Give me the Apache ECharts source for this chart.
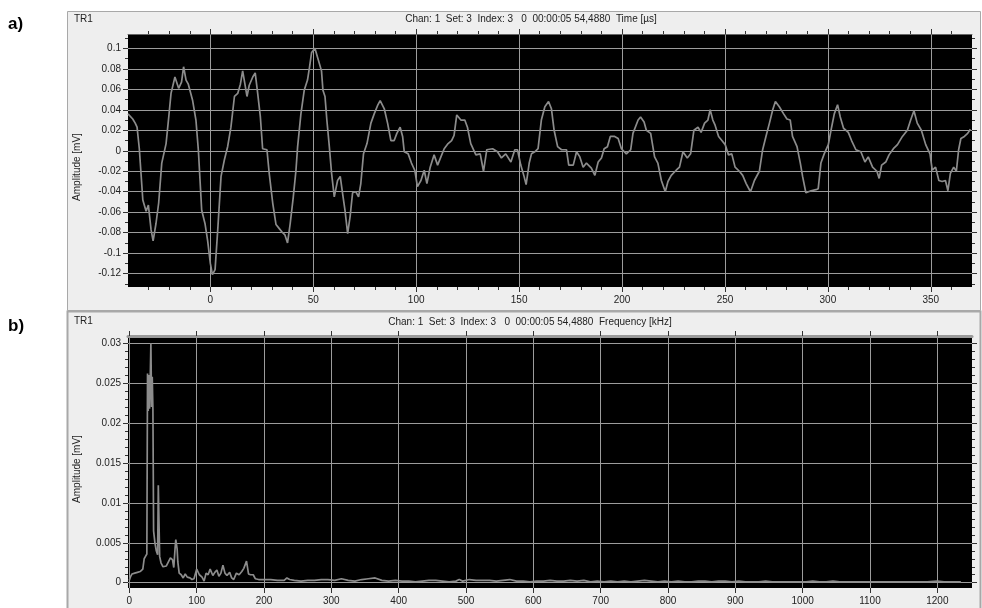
<!DOCTYPE html>
<html><head><meta charset="utf-8">
<script src="https://cdn.jsdelivr.net/npm/echarts@6/dist/echarts.min.js"></script>
<style>html,body{margin:0;padding:0;background:#fff}#c{width:982px;height:608px}</style>
</head><body><div id="c"></div>
<script>
// ---- Panel a: time signal ----
const timeUs = [-40,-37.7,-36.5,-35.6,-34.5,-32.8,-31.2,-30.1,-28.8,-27.8,-26.4,-25.1,-23.6,-21.5,-20.2,-19.1,-17.2,-15.4,-14,-13,-11.8,-10.7,-8.6,-7,-5.8,-4.2,-2.6,-1.3,0,1,2.3,3.6,5.2,6.8,8.4,10,11.7,13.3,14.6,15.7,16.8,17.8,18.9,20.6,21.8,23,24.3,25.4,27.5,28.6,30.3,31.9,33.5,35.1,36.2,37.5,38.8,40.3,41.6,42.4,44,45.6,47.2,48.2,49.2,50.8,52.1,54,54.7,55.7,56.6,57.8,58.9,60.2,61.8,63.1,64.2,65.4,66.7,67.9,69.1,70.7,72,73.1,74.4,76.1,78,79.6,81.2,82.5,84.5,86.1,87.7,89.3,90.6,92.2,93.4,94.2,96.1,97.7,99.3,100.6,102.3,103.9,105.2,106.8,108.7,110.4,112,113.6,115.5,117.2,118.4,119.7,121.7,123.6,124.9,126.5,129,131.1,132.7,134.3,137.1,139.5,141.4,143.5,146,147.9,149.2,150.8,152.4,153.4,154.9,156,157.6,159.2,160.8,162.5,164.3,165.7,167,168.7,170.6,173,174.1,176.3,177.9,179.5,181.1,182.7,185.1,186.8,188.4,190,191.3,192.9,194.3,196.4,198.1,199.7,202.1,204.2,205.3,207.8,209,210.7,211.8,213.9,215.8,217.4,219.1,221,222.3,223.9,226.3,227.9,229.6,231.7,233.3,234.9,236.9,238.4,240.1,241.7,242.8,244.1,245.2,246.9,248.5,250.1,251.7,253.3,254.9,257,258.6,260.3,262.4,264.3,266.7,268.3,269.9,271.6,273.2,274.5,276.4,278.5,280.1,281.7,282.8,285,286.6,287.7,289.3,291.8,294.2,295.3,296.6,298.2,300.2,301.8,303.1,304.7,306,307.6,309.9,311.5,313.6,316,318,319.6,321.7,323.8,324.9,326.1,328.1,329.7,331.8,333.8,336.2,338.6,340.2,341.8,343.4,345.4,347.5,349.6,350.7,352.3,353.9,355.5,357.1,358.3,359.5,361.1,362.4,363.5,364.6,366.3,367.9,369.2];
const ampMv = [0.036,0.031,0.027,0.023,0.002,-0.048,-0.059,-0.053,-0.077,-0.088,-0.071,-0.051,-0.012,0.007,0.033,0.056,0.072,0.061,0.067,0.082,0.069,0.065,0.049,0.030,0.000,-0.058,-0.071,-0.088,-0.110,-0.121,-0.116,-0.077,-0.025,-0.009,0.004,0.023,0.053,0.056,0.065,0.078,0.065,0.053,0.064,0.072,0.076,0.056,0.033,0.002,0.001,-0.022,-0.051,-0.072,-0.076,-0.080,-0.082,-0.090,-0.071,-0.045,-0.019,0.004,0.036,0.059,0.069,0.082,0.096,0.100,0.091,0.078,0.059,0.053,0.030,0.004,-0.022,-0.045,-0.029,-0.025,-0.041,-0.058,-0.081,-0.064,-0.041,-0.040,-0.045,-0.032,-0.003,0.007,0.027,0.036,0.044,0.049,0.041,0.027,0.010,0.010,0.017,0.023,0.014,-0.001,-0.003,-0.012,-0.019,-0.035,-0.029,-0.019,-0.032,-0.016,-0.004,-0.014,-0.006,0.002,0.007,0.010,0.015,0.035,0.030,0.030,0.023,0.007,-0.004,-0.003,-0.020,0.001,0.002,-0.001,-0.007,-0.003,-0.011,0.001,0.001,-0.014,-0.025,-0.033,-0.012,-0.003,-0.001,0.002,0.030,0.043,0.048,0.041,0.020,0.004,0.001,0.001,-0.014,-0.014,-0.001,-0.006,-0.016,-0.012,-0.017,-0.024,-0.011,-0.007,0.002,0.004,0.014,0.014,0.012,0.002,-0.003,0.001,0.017,0.030,0.033,0.028,0.020,0.017,-0.006,-0.012,-0.029,-0.040,-0.030,-0.024,-0.019,-0.016,-0.001,-0.007,-0.003,0.020,0.023,0.018,0.027,0.030,0.040,0.030,0.025,0.014,0.010,0.006,-0.004,-0.003,-0.016,-0.020,-0.024,-0.032,-0.040,-0.029,-0.020,0.001,0.014,0.027,0.040,0.048,0.043,0.036,0.031,0.030,0.014,0.004,-0.012,-0.025,-0.041,-0.039,-0.038,-0.037,-0.012,-0.003,0.006,0.023,0.036,0.045,0.033,0.022,0.018,0.010,0.001,-0.001,-0.011,-0.006,-0.016,-0.020,-0.027,-0.014,-0.011,-0.004,0.002,0.006,0.014,0.020,0.030,0.039,0.027,0.020,0.006,-0.003,-0.019,-0.016,-0.029,-0.030,-0.029,-0.039,-0.022,-0.016,-0.020,0.001,0.012,0.014,0.017,0.021];
const timeTicksMajor = [0,50,100,150,200,250,300,350];
const timeTicksAll = [-30,-20,-10,0,10,20,30,40,50,60,70,80,90,100,110,120,130,140,150,160,170,180,190,200,210,220,230,240,250,260,270,280,290,300,310,320,330,340,350,360];
const ampTicksMajor = [-0.12,-0.1,-0.08,-0.06,-0.04,-0.02,0,0.02,0.04,0.06,0.08,0.1];
const ampTicksAll = [-0.13,-0.12,-0.11,-0.1,-0.09,-0.08,-0.07,-0.06,-0.05,-0.04,-0.03,-0.02,-0.01,0,0.01,0.02,0.03,0.04,0.05,0.06,0.07,0.08,0.09,0.1,0.11];

// ---- Panel b: spectrum ----
const freqKHz = [0,2,4,8,12,16,20,22,24,26,27,28,29,30,31,32,33,34,35,36,38,40,42,43,44,45,47,50,55,58,61,64,66,68,69,71,72,74,77,80,83,86,90,93,96,100,104,108,111,114,117,120,124,127,130,133,136,139,142,145,149,152,155,159,163,167,170,174,177,180,184,187,192,200,210,220,230,234,238,245,255,265,275,285,295,305,315,325,335,345,355,365,375,385,395,405,415,425,435,445,455,465,475,485,490,495,505,515,525,535,545,555,565,575,585,595,605,615,625,635,645,655,665,675,685,695,705,715,725,735,745,755,765,775,785,795,805,815,825,835,845,855,865,875,885,895,905,915,925,935,945,955,965,975,985,995,1005,1015,1025,1035,1045,1055,1065,1080,1095,1110,1125,1140,1155,1170,1185,1200,1210,1220,1235,1250];
const specMv = [0.0003,0.0008,0.0011,0.0012,0.0013,0.0014,0.0017,0.0030,0.0033,0.0036,0.0262,0.0215,0.0260,0.0218,0.0255,0.0300,0.0220,0.0258,0.0217,0.0065,0.0050,0.0040,0.0035,0.0122,0.0123,0.0033,0.0025,0.0020,0.0021,0.0026,0.0031,0.0029,0.0019,0.0044,0.0054,0.0042,0.0026,0.0012,0.0010,0.0006,0.0011,0.0007,0.0006,0.0004,0.0005,0.0017,0.0010,0.0007,0.0002,0.0012,0.0010,0.0017,0.0009,0.0013,0.0016,0.0008,0.0012,0.0022,0.0012,0.0009,0.0013,0.0006,0.0004,0.0012,0.0010,0.0014,0.0018,0.0027,0.0011,0.0010,0.0010,0.0005,0.0004,0.0004,0.0004,0.0003,0.0003,0.0006,0.0004,0.0003,0.0002,0.0003,0.0003,0.0004,0.0004,0.0003,0.0005,0.0003,0.0002,0.0004,0.0005,0.0006,0.0003,0.0002,0.0003,0.0002,0.0002,0.0001,0.0002,0.0003,0.0003,0.0002,0.0001,0.0002,0.0004,0.0002,0.0004,0.0003,0.0003,0.0003,0.0002,0.0003,0.0004,0.0002,0.0002,0.0001,0.0002,0.0002,0.0003,0.0002,0.0002,0.0003,0.0002,0.0003,0.0001,0.0002,0.0001,0.0002,0.0001,0.0002,0.0001,0.0002,0.0003,0.0002,0.0001,0.0002,0.0001,0.0002,0.0001,0.0001,0.0002,0.0002,0.0001,0.0002,0.0002,0.0001,0.0002,0.0001,0.0001,0.0001,0.0002,0.0001,0.0001,0.0001,0.0001,0.0001,0.0001,0.0002,0.0001,0.0001,0.0002,0.0001,0.0001,0.0001,0.0001,0.0001,0.0001,0.0001,0.0001,0.0001,0.0001,0.0002,0.0001,0.0001,0.0001];
const freqTicksMajor = [0,100,200,300,400,500,600,700,800,900,1000,1100,1200];
const specTicksMajor = [0,0.005,0.01,0.015,0.02,0.025,0.03];
const specTicksAll = [0,0.001,0.002,0.003,0.004,0.005,0.006,0.007,0.008,0.009,0.01,0.011,0.012,0.013,0.014,0.015,0.016,0.017,0.018,0.019,0.02,0.021,0.022,0.023,0.024,0.025,0.026,0.027,0.028,0.029,0.03];

const titleA = 'Chan: 1  Set: 3  Index: 3   0  00:00:05 54,4880  Time [µs]';
const titleB = 'Chan: 1  Set: 3  Index: 3   0  00:00:05 54,4880  Frequency [kHz]';

const FONT = '"Liberation Sans", Arial, sans-serif';
const lab = {fontFamily: FONT, fontSize: 10, color: '#222', formatter: v => String(v)};
const tickColor = '#333';
const gridColor = '#9c9c9c';

function ax(o) {
  const base = {type: 'value', axisLine: {show: false, onZero: false}, splitLine: {show: false}, axisLabel: {show: false}};
  const r = Object.assign(base, o);
  r.axisLine = Object.assign({show: false}, o.axisLine || {}, {onZero: false});
  return r;
}
const aX = {gridIndex: 0, min: -40, max: 370};
const aY = {gridIndex: 0, min: -0.133, max: 0.114};
const bX = {gridIndex: 1, min: -2, max: 1251.5};
const bY = {gridIndex: 1, min: -0.00066, max: 0.0309};

const chart = echarts.init(document.getElementById('c'), null, {renderer: 'canvas'});
chart.setOption({
  animation: false,
  backgroundColor: '#ffffff',
  graphic: [
    {type: 'rect', z: -10, shape: {x: 67.5, y: 11.5, width: 913, height: 299}, style: {fill: '#eeeeee', stroke: '#a8a8a8', lineWidth: 1}},
    {type: 'rect', z: -10, shape: {x: 67.5, y: 311.5, width: 913, height: 300}, style: {fill: '#eeeeee', stroke: '#a8a8a8', lineWidth: 2}},
    {type: 'text', left: 8, top: 16, style: {text: 'a)', font: 'bold 17px ' + FONT, fill: '#000'}},
    {type: 'text', left: 8, top: 318, style: {text: 'b)', font: 'bold 17px ' + FONT, fill: '#000'}},
    {type: 'text', left: 74, top: 14, style: {text: 'TR1', font: '10px ' + FONT, fill: '#222'}},
    {type: 'text', left: 74, top: 316, style: {text: 'TR1', font: '10px ' + FONT, fill: '#222'}},
    {type: 'text', x: 531, y: 19.5, style: {text: titleA, font: '10px ' + FONT, fill: '#222', align: 'center', verticalAlign: 'middle'}},
    {type: 'text', x: 530, y: 322, style: {text: titleB, font: '10px ' + FONT, fill: '#222', align: 'center', verticalAlign: 'middle'}},
    {type: 'text', x: 77, y: 167, rotation: Math.PI / 2, style: {text: 'Amplitude [mV]', font: '10px ' + FONT, fill: '#222', align: 'center', verticalAlign: 'middle'}},
    {type: 'text', x: 77, y: 469, rotation: Math.PI / 2, style: {text: 'Amplitude [mV]', font: '10px ' + FONT, fill: '#222', align: 'center', verticalAlign: 'middle'}}
  ],
  grid: [
    {left: 128, top: 34, width: 844, height: 253, show: true, backgroundColor: '#000', borderWidth: 0},
    {left: 128, top: 336, width: 844, height: 252, show: true, backgroundColor: '#000', borderWidth: 0}
  ],
  xAxis: [
    ax(Object.assign({}, aX, {position: 'bottom', axisTick: {length: 5, customValues: timeTicksMajor, lineStyle: {color: tickColor}}, axisLabel: Object.assign({show: true, margin: 8, customValues: timeTicksMajor}, lab), splitLine: {show: true, lineStyle: {color: gridColor, width: 1}}})),
    ax(Object.assign({}, aX, {position: 'bottom', axisTick: {length: 3, customValues: timeTicksAll, lineStyle: {color: tickColor}}})),
    ax(Object.assign({}, aX, {position: 'top', axisTick: {length: 5, customValues: timeTicksMajor, lineStyle: {color: tickColor}}, axisLine: {show: true, lineStyle: {color: '#666', width: 1}}})),
    ax(Object.assign({}, aX, {position: 'top', axisTick: {length: 3, customValues: timeTicksAll, lineStyle: {color: tickColor}}})),
    ax(Object.assign({}, bX, {position: 'bottom', axisTick: {length: 5, customValues: freqTicksMajor, lineStyle: {color: tickColor}}, axisLabel: Object.assign({show: true, margin: 8, customValues: freqTicksMajor}, lab), splitLine: {show: true, lineStyle: {color: gridColor, width: 1}}})),
    ax(Object.assign({}, bX, {position: 'top', axisTick: {length: 5, customValues: freqTicksMajor, lineStyle: {color: tickColor}}, axisLine: {show: true, lineStyle: {color: '#9a9a9a', width: 3}}}))
  ],
  yAxis: [
    ax(Object.assign({}, aY, {position: 'left', axisTick: {length: 5, customValues: ampTicksMajor, lineStyle: {color: tickColor}}, axisLabel: Object.assign({show: true, margin: 7, customValues: ampTicksMajor}, lab), splitLine: {show: true, lineStyle: {color: gridColor, width: 1}}})),
    ax(Object.assign({}, aY, {position: 'left', axisTick: {length: 3, customValues: ampTicksAll, lineStyle: {color: tickColor}}})),
    ax(Object.assign({}, aY, {position: 'right', axisTick: {length: 5, customValues: ampTicksMajor, lineStyle: {color: tickColor}}})),
    ax(Object.assign({}, aY, {position: 'right', axisTick: {length: 3, customValues: ampTicksAll, lineStyle: {color: tickColor}}})),
    ax(Object.assign({}, bY, {position: 'left', axisTick: {length: 5, customValues: specTicksMajor, lineStyle: {color: tickColor}}, axisLabel: Object.assign({show: true, margin: 7, customValues: specTicksMajor}, lab), splitLine: {show: true, lineStyle: {color: gridColor, width: 1}}})),
    ax(Object.assign({}, bY, {position: 'left', axisTick: {length: 3, customValues: specTicksAll, lineStyle: {color: tickColor}}})),
    ax(Object.assign({}, bY, {position: 'right', axisTick: {length: 5, customValues: specTicksMajor, lineStyle: {color: tickColor}}})),
    ax(Object.assign({}, bY, {position: 'right', axisTick: {length: 3, customValues: specTicksAll, lineStyle: {color: tickColor}}}))
  ],
  series: [
    {type: 'line', xAxisIndex: 0, yAxisIndex: 0, showSymbol: false, symbol: 'none', clip: true,
     lineStyle: {color: '#8c8c8c', width: 1.7}, data: timeUs.map((t, i) => [t, ampMv[i]])},
    {type: 'line', xAxisIndex: 4, yAxisIndex: 4, showSymbol: false, symbol: 'none', clip: true,
     lineStyle: {color: '#8c8c8c', width: 1.7}, data: freqKHz.map((f, i) => [f, specMv[i]])}
  ]
});
</script></body></html>
